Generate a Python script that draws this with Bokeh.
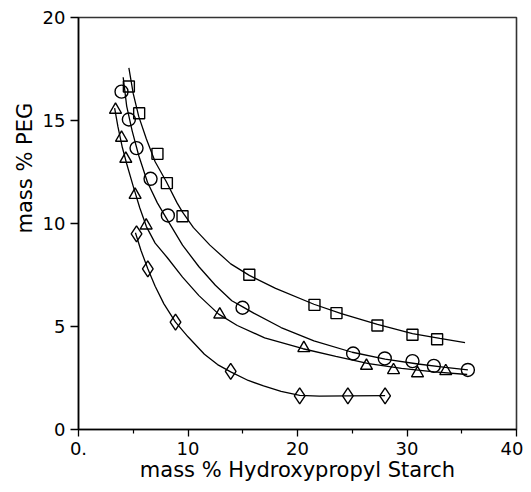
from bokeh.plotting import figure
from bokeh.models import Range1d, FixedTicker, Title
from bokeh.embed import file_html
from bokeh.resources import INLINE

# ---- marker data ----
sq_x = [4.6, 5.54, 7.21, 8.07, 9.5, 15.6, 21.55, 23.56, 27.3, 30.5, 32.75]
sq_y = [16.65, 15.35, 13.38, 11.96, 10.35, 7.51, 6.05, 5.65, 5.05, 4.6, 4.38]

ci_x = [3.93, 4.6, 5.3, 6.58, 8.16, 14.98, 25.08, 27.97, 30.5, 32.45, 35.56]
ci_y = [16.4, 15.05, 13.66, 12.17, 10.39, 5.91, 3.69, 3.45, 3.32, 3.09, 2.89]

tr_x = [3.38, 3.93, 4.32, 5.17, 6.18, 12.9, 20.58, 26.3, 28.77, 30.96, 33.54]
tr_y = [15.52, 14.16, 13.14, 11.39, 9.9, 5.58, 3.95, 3.09, 2.88, 2.73, 2.83]

di_x = [5.3, 6.33, 8.86, 13.9, 20.2, 24.6, 28.0]
di_y = [9.5, 7.8, 5.21, 2.82, 1.63, 1.63, 1.63]

# ---- fitted curves ----
sq_cx = [4.6, 5.0, 5.5, 6.2, 7.0, 8.0, 9.0, 9.5, 10.5, 12.0, 13.9, 15.6, 18.0, 21.5, 24.0, 27.3, 30.5, 33.0, 35.3]
sq_cy = [17.55, 16.3, 15.2, 14.1, 13.0, 12.05, 11.0, 10.55, 9.8, 8.95, 8.04, 7.48, 6.85, 6.08, 5.62, 5.1, 4.65, 4.42, 4.22]

ci_cx = [4.08, 4.4, 4.9, 5.5, 6.3, 7.2, 8.2, 9.5, 11.0, 12.5, 14.0, 15.0, 16.0, 18.5, 21.5, 25.0, 28.0, 31.0, 33.5, 35.56]
ci_cy = [17.1, 15.7, 14.5, 13.3, 12.0, 11.0, 10.1, 8.95, 7.9, 7.0, 6.25, 5.95, 5.65, 4.95, 4.3, 3.75, 3.42, 3.18, 3.02, 2.89]

tr_cx = [3.3, 3.6, 4.0, 4.4, 5.0, 5.6, 6.2, 7.0, 8.1, 9.5, 11.0, 12.8, 14.5, 17.0, 20.5, 23.5, 26.5, 29.5, 32.5, 35.5]
tr_cy = [15.6, 14.7, 13.7, 12.9, 11.8, 10.75, 9.85, 9.05, 8.35, 7.4, 6.5, 5.6, 5.05, 4.45, 3.92, 3.55, 3.2, 2.97, 2.8, 2.67]

di_cx = [5.2, 5.7, 6.33, 7.0, 7.8, 8.86, 10.0, 11.5, 12.7, 13.9, 15.5, 16.9, 18.5, 20.2, 22.0, 24.6, 28.0]
di_cy = [9.55, 8.7, 7.8, 6.95, 6.1, 5.21, 4.5, 3.65, 3.15, 2.8, 2.38, 2.12, 1.85, 1.66, 1.62, 1.63, 1.64]

x_ticks = [0, 10, 20, 30, 40]
x_minor = [5, 15, 25, 35]
x_labels = {0: "0.", 10: "10", 20: "20", 30: "30", 40: "40"}
y_ticks = [0, 5, 10, 15, 20]

FONT = "DejaVu Sans"

p = figure(width=523, height=484, output_backend="svg", toolbar_location=None,
           x_range=Range1d(0, 40), y_range=Range1d(0, 20),
           min_border_left=78, min_border_right=7, min_border_top=17, min_border_bottom=55)
p.background_fill_color = "white"
p.border_fill_color = "white"
p.grid.visible = False
p.outline_line_color = "#333333"
p.outline_line_width = 1.6

# x axis
xa = p.xaxis[0]
xa.ticker = FixedTicker(ticks=x_ticks, minor_ticks=x_minor)
xa.major_label_overrides = x_labels
xa.major_tick_out = 7
xa.major_tick_in = 0
xa.minor_tick_out = 4
xa.minor_tick_in = 0
xa.axis_line_width = 1.5
xa.major_tick_line_width = 1.3
xa.minor_tick_line_width = 1.2
xa.major_label_text_font = FONT
xa.major_label_text_font_size = "18px"
xa.major_label_text_color = "black"
xa.major_label_standoff = 5
xa.axis_label = "mass % Hydroxypropyl Starch"
xa.axis_label_text_font = FONT
xa.axis_label_text_font_size = "21px"
xa.axis_label_text_font_style = "normal"
xa.axis_label_text_color = "black"
xa.axis_label_standoff = 0

# y axis
ya = p.yaxis[0]
ya.ticker = FixedTicker(ticks=y_ticks, minor_ticks=[])
ya.major_tick_out = 8
ya.major_tick_in = 0
ya.minor_tick_out = 0
ya.minor_tick_in = 0
ya.axis_line_width = 1.5
ya.major_tick_line_width = 1.3
ya.major_label_text_font = FONT
ya.major_label_text_font_size = "18px"
ya.major_label_text_color = "black"
ya.major_label_standoff = 5

ytitle = Title(text="mass % PEG", align="left", offset=196, standoff=6,
               text_font=FONT, text_font_size="21px", text_font_style="normal",
               text_color="black")
p.add_layout(ytitle, "left")

# curves
for cx, cy in [(sq_cx, sq_cy), (ci_cx, ci_cy), (tr_cx, tr_cy), (di_cx, di_cy)]:
    p.line(cx, cy, line_color="black", line_width=1.3)

# markers
p.scatter(sq_x, sq_y, marker="square", size=11, fill_color=None, line_color="black", line_width=1.4)
p.scatter(ci_x, ci_y, marker="circle", size=13, fill_color=None, line_color="black", line_width=1.4)
p.scatter(tr_x, tr_y, marker="triangle", size=12, fill_color=None, line_color="black", line_width=1.4)
p.scatter(di_x, di_y, marker="diamond", size=16, fill_color=None, line_color="black", line_width=1.4)

open("out.html", "w").write(file_html(p, INLINE))
